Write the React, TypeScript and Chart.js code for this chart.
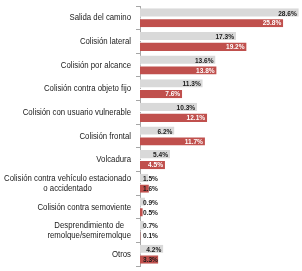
import React, { useEffect, useRef } from "react";
import { Chart, registerables } from "chart.js";

Chart.register(...registerables);

const categories: string[][] = [
  ["Salida del camino"],
  ["Colisión lateral"],
  ["Colisión por alcance"],
  ["Colisión contra objeto fijo"],
  ["Colisión con usuario vulnerable"],
  ["Colisión frontal"],
  ["Volcadura"],
  ["Colisión contra vehículo estacionado", "o accidentado"],
  ["Colisión contra semoviente"],
  ["Desprendimiento de", "remolque/semiremolque"],
  ["Otros"],
];

const seriesGray: number[] = [28.6, 17.3, 13.6, 11.3, 10.3, 6.2, 5.4, 1.5, 0.9, 0.7, 4.2];
const seriesRed: number[] = [25.8, 19.2, 13.8, 7.6, 12.1, 11.7, 4.5, 1.6, 0.5, 0.1, 3.3];

const FONT_FAMILY = "'Liberation Sans', Arial, sans-serif";
const NARROW = 0.82;

function narrowText(ctx: CanvasRenderingContext2D, txt: string, x: number, y: number, align: CanvasTextAlign) {
  ctx.save();
  ctx.translate(x, y);
  ctx.scale(NARROW, 1);
  ctx.textAlign = align;
  ctx.fillText(txt, 0, 0);
  ctx.restore();
}

const labelPlugin = {
  id: "customLabels",
  afterDraw(chart: any) {
    const ctx = chart.ctx as CanvasRenderingContext2D;
    const area = chart.chartArea;
    const yScale = chart.scales.y;
    ctx.save();
    ctx.font = `9.5px ${FONT_FAMILY}`;
    ctx.fillStyle = "#1a1a1a";
    ctx.textBaseline = "middle";
    const lineH = 10.5;
    categories.forEach((lines, i) => {
      const yc = yScale.getPixelForValue(i);
      const blockW = Math.max(...lines.map((l) => ctx.measureText(l).width)) * NARROW;
      const rightX = area.left - 9;
      const cx = rightX - blockW / 2;
      const y0 = yc - ((lines.length - 1) * lineH) / 2;
      lines.forEach((l, j) => narrowText(ctx, l, cx, y0 + j * lineH, "center"));
    });
    ctx.font = `bold 8px ${FONT_FAMILY}`;
    chart.data.datasets.forEach((ds: any, di: number) => {
      const meta = chart.getDatasetMeta(di);
      meta.data.forEach((bar: any, i: number) => {
        const v = ds.data[i];
        const txt = v.toFixed(1) + "%";
        const w = ctx.measureText(txt).width * NARROW;
        const len = bar.x - bar.base;
        if (len >= w + 6) {
          ctx.fillStyle = di === 1 ? "#ffffff" : "#1a1a1a";
          narrowText(ctx, txt, bar.x - 2, bar.y + 0.5, "right");
        } else {
          ctx.fillStyle = "#1a1a1a";
          narrowText(ctx, txt, bar.base + 3, bar.y + 0.5, "left");
        }
      });
    });
    ctx.restore();
  },
};

export default function App() {
  const ref = useRef<HTMLCanvasElement>(null);
  useEffect(() => {
    if (!ref.current) return;
    const chart = new Chart(ref.current, {
      type: "bar",
      data: {
        labels: categories.map((c) => c.join(" ")),
        datasets: [
          {
            data: seriesGray,
            backgroundColor: "#d9d9d9",
            borderColor: "#ffffff",
            borderWidth: { top: 0, bottom: 1, left: 0, right: 0 },
            borderSkipped: false,
            barPercentage: 0.92,
            categoryPercentage: 0.84,
          },
          {
            data: seriesRed,
            backgroundColor: "#c0504d",
            borderColor: "#ffffff",
            borderWidth: { top: 1, bottom: 0, left: 0, right: 0 },
            borderSkipped: false,
            barPercentage: 0.92,
            categoryPercentage: 0.84,
          },
        ],
      },
      options: {
        indexAxis: "y",
        animation: false,
        responsive: false,
        maintainAspectRatio: false,
        layout: { padding: { top: 6, bottom: 5, left: 0, right: 1 } },
        plugins: {
          legend: { display: false },
          tooltip: { enabled: false },
        },
        scales: {
          x: {
            display: false,
            min: 0,
            max: 29,
          },
          y: {
            display: true,
            ticks: { display: false },
            grid: {
              display: true,
              drawOnChartArea: false,
              drawTicks: true,
              tickLength: 4,
              color: "#a6a6a6",
              offset: true,
            },
            border: { display: true, color: "#a6a6a6" },
            afterFit: (scale: any) => {
              scale.width = 140;
            },
          },
        },
      },
      plugins: [labelPlugin],
    });
    return () => chart.destroy();
  }, []);
  return (
    <div style={{ position: "fixed", left: 0, top: 0, width: 302, height: 271, background: "#fff" }}>
      <canvas ref={ref} width={302} height={271} style={{ display: "block" }} />
    </div>
  );
}
